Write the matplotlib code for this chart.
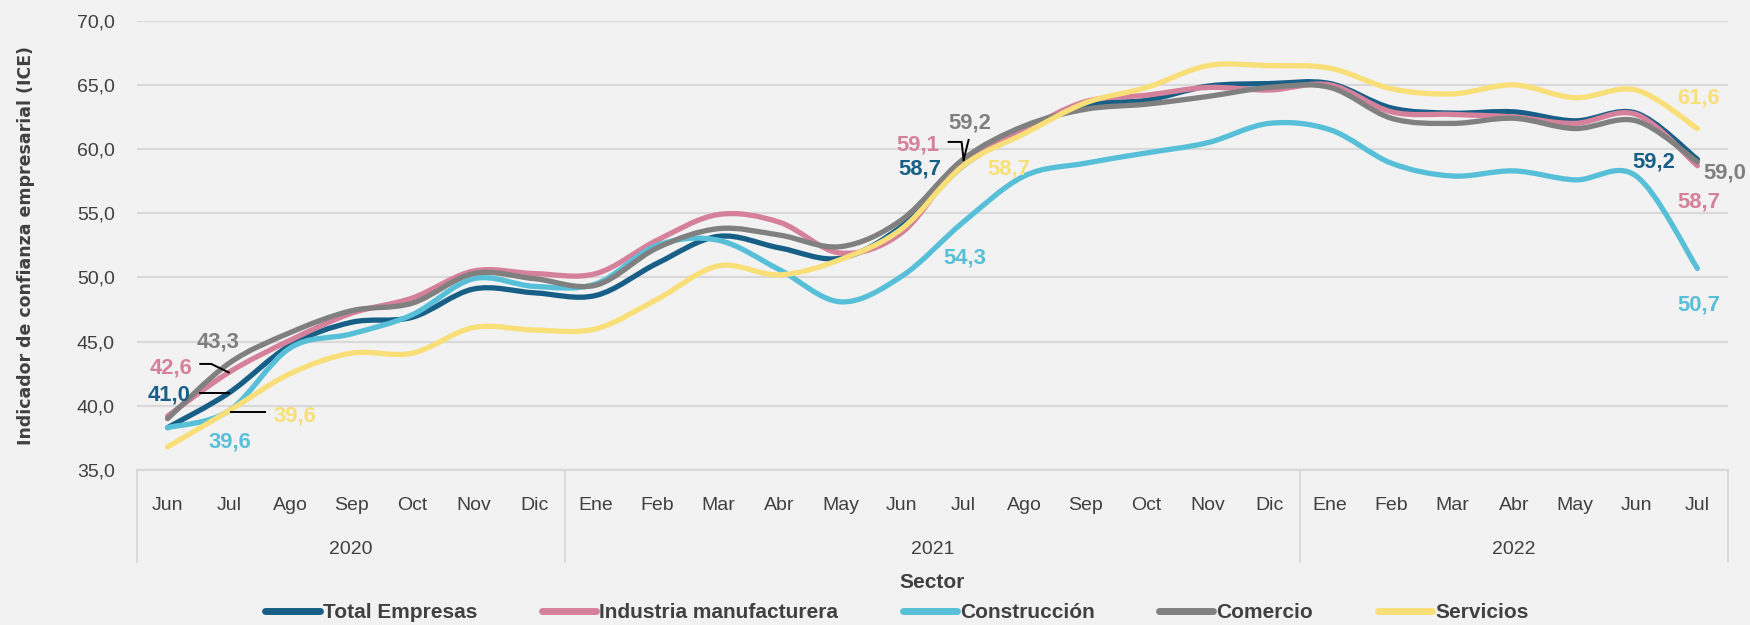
import numpy as np
import matplotlib
matplotlib.use("Agg")
import matplotlib.pyplot as plt
from matplotlib.path import Path
from matplotlib.patches import PathPatch
from matplotlib.lines import Line2D
from matplotlib import transforms

# datos
meses = ['Jun', 'Jul', 'Ago', 'Sep', 'Oct', 'Nov', 'Dic',
         'Ene', 'Feb', 'Mar', 'Abr', 'May', 'Jun', 'Jul', 'Ago', 'Sep', 'Oct', 'Nov', 'Dic',
         'Ene', 'Feb', 'Mar', 'Abr', 'May', 'Jun', 'Jul']
anios = ['2020', '2021', '2022']
meses_por_anio = [7, 12, 7]

total = [38.3, 41.0, 44.7, 46.5, 46.9, 49.1, 48.8, 48.6, 51.1, 53.2, 52.3, 51.5, 54.0,
         58.7, 61.4, 63.4, 63.8, 64.9, 65.1, 65.1, 63.2, 62.8, 62.9, 62.2, 62.8, 59.2]
industria = [39.2, 42.6, 45.1, 47.2, 48.4, 50.5, 50.3, 50.3, 52.9, 54.9, 54.3, 51.9, 53.5,
             59.1, 61.5, 63.7, 64.2, 64.8, 64.6, 65.0, 62.9, 62.7, 62.5, 62.0, 62.7, 58.7]
construccion = [38.3, 39.6, 44.5, 45.6, 47.1, 49.9, 49.3, 49.5, 52.5, 52.9, 50.6, 48.1, 50.1,
                54.3, 57.9, 58.9, 59.7, 60.5, 62.0, 61.5, 58.9, 57.9, 58.3, 57.6, 57.9, 50.7]
comercio = [39.0, 43.3, 45.7, 47.4, 48.0, 50.3, 49.9, 49.4, 52.3, 53.8, 53.3, 52.4, 54.5,
            59.2, 61.8, 63.1, 63.5, 64.1, 64.8, 64.8, 62.4, 62.0, 62.4, 61.6, 62.2, 59.0]
servicios = [36.8, 39.6, 42.5, 44.1, 44.1, 46.1, 45.9, 46.0, 48.3, 50.9, 50.2, 51.4, 53.8,
             58.7, 61.2, 63.6, 64.8, 66.5, 66.5, 66.3, 64.7, 64.3, 65.0, 64.0, 64.6, 61.6]

nombres = ['Total Empresas', 'Industria manufacturera', 'Construcción', 'Comercio', 'Servicios']
series = [total, industria, construccion, comercio, servicios]
colores = ['#175f86', '#d6819b', '#57c0d8', '#808080', '#f9df78']

FONDO = '#f2f2f2'
TEXTO = '#404040'
FUENTE = ['Liberation Sans', 'DejaVu Sans']


def curva(xs, ys):
    # curva suavizada tipo Excel (bezier)
    n = len(xs)
    verts = [(xs[0], ys[0])]
    codes = [Path.MOVETO]
    for i in range(n - 1):
        a = max(i - 1, 0)
        b = min(i + 2, n - 1)
        c1 = (xs[i] + (xs[i + 1] - xs[a]) / 6, ys[i] + (ys[i + 1] - ys[a]) / 6)
        c2 = (xs[i + 1] - (xs[b] - xs[i]) / 6, ys[i + 1] - (ys[b] - ys[i]) / 6)
        verts += [c1, c2, (xs[i + 1], ys[i + 1])]
        codes += [Path.CURVE4] * 3
    return Path(verts, codes)


fig = plt.figure(figsize=(17.5, 6.25), dpi=100, facecolor=FONDO)
ax = fig.add_axes([137 / 1750, 1 - 470 / 625, (1728 - 137) / 1750, (470 - 20.7) / 625])
ax.set_facecolor(FONDO)

x = np.arange(len(meses))
for s, c in zip(series, colores):
    ax.add_patch(PathPatch(curva(x, s), fill=False, edgecolor=c, lw=3.8,
                           capstyle='round', joinstyle='round', zorder=3))

ax.set_xlim(-0.5, len(meses) - 0.5)
ax.set_ylim(35, 70)
ax.set_yticks(np.arange(35, 71, 5))
ax.set_yticklabels([f"{v:.1f}".replace('.', ',') for v in np.arange(35, 71, 5)],
                   family=FUENTE, fontsize=14, color=TEXTO)
ax.tick_params(axis='y', length=0, pad=16)
ax.set_xticks([])
ax.grid(axis='y', color='#d9d9d9', lw=1.6)
ax.set_axisbelow(True)
for sp in ['top', 'right', 'left']:
    ax.spines[sp].set_visible(False)
ax.spines['bottom'].set_color('#d9d9d9')
ax.spines['bottom'].set_linewidth(1.6)

# eje de categorias en dos niveles
tx = ax.get_xaxis_transform()
for i, m in enumerate(meses):
    ax.text(i, -0.078, m, transform=tx, ha='center', va='center',
            family=FUENTE, fontsize=14, color=TEXTO)
inicio = 0
for anio, k in zip(anios, meses_por_anio):
    ax.text(inicio + (k - 1) / 2, -0.176, anio, transform=tx, ha='center', va='center',
            family=FUENTE, fontsize=14, color=TEXTO)
    ax.plot([inicio - 0.5, inicio - 0.5], [0, -0.205], transform=tx, color='#d9d9d9',
            lw=1.3, clip_on=False)
    inicio += k
ax.plot([inicio - 0.5, inicio - 0.5], [0, -0.205], transform=tx, color='#d9d9d9',
        lw=1.3, clip_on=False)

ax.set_ylabel('Indicador de confianza empresarial (ICE)', fontsize=12.5, fontweight='bold',
              color=TEXTO)
ax.yaxis.set_label_coords(-0.064, 0.5)
fig.text(932 / 1750, 1 - 583 / 625, 'Sector', ha='center', va='center', family=FUENTE,
         fontsize=15, fontweight='bold', color=TEXTO)

# etiquetas de datos: (serie, mes, desplazamiento en puntos)
etiquetas = [
    (3, 1, (-7.6, 15.5)), (1, 1, (-41.4, 3.2)), (0, 1, (-42.8, -1.4)),
    (4, 1, (47.9, -3.6)), (2, 1, (1.1, -22.3)),
    (3, 13, (4.7, 26.2)), (1, 13, (-32.8, 11.3)), (0, 13, (-31.3, -2.3)),
    (4, 13, (32.8, -2.3)), (2, 13, (1.1, -25.7)),
    (4, 25, (1.1, 22)), (0, 25, (-31.3, -1.9)), (3, 25, (19.5, -7.9)),
    (1, 25, (1.1, -26)), (2, 25, (1.1, -26.3)),
]
for si, mi, off in etiquetas:
    v = series[si][mi]
    col = '#7f7f7f' if si == 3 else colores[si]
    ax.annotate(f"{v:.1f}".replace('.', ','), xy=(mi, v), xytext=off,
                textcoords='offset points', ha='center', va='center', family=FUENTE,
                fontsize=15.8, fontweight='bold', color=col, zorder=5)

# lineas guia (pixeles relativos al punto)
guias = [
    (1, 1, [(-28.5, 8.5), (-17.5, 8.5), (0, 0)]),
    (0, 1, [(-28.5, 0), (0, 0)]),
    (4, 1, [(2.5, -1), (36.5, -1)]),
    (3, 13, [(5.5, 19.4), (0.5, -0.6)]),
    (1, 13, [(-14.5, 18.7), (-1.5, 18.7), (0.5, 0.7)]),
]
for si, mi, pts in guias:
    tr = fig.dpi_scale_trans + transforms.ScaledTranslation(mi, series[si][mi], ax.transData)
    px = [p[0] / 100 for p in pts]
    py = [p[1] / 100 for p in pts]
    ax.plot(px, py, transform=tr, color='black', lw=1.4, zorder=6, clip_on=False)

handles = [Line2D([], [], color=c, lw=5, solid_capstyle='round') for c in colores]
fig.legend(handles, nombres, loc='center', bbox_to_anchor=(897 / 1750, 0.02), ncol=5,
           frameon=False, handlelength=2.6, handletextpad=0.15, columnspacing=3.1,
           prop={'family': FUENTE, 'size': 15, 'weight': 'bold'}, labelcolor=TEXTO)

fig.savefig('out.png', dpi=100, facecolor=FONDO)
